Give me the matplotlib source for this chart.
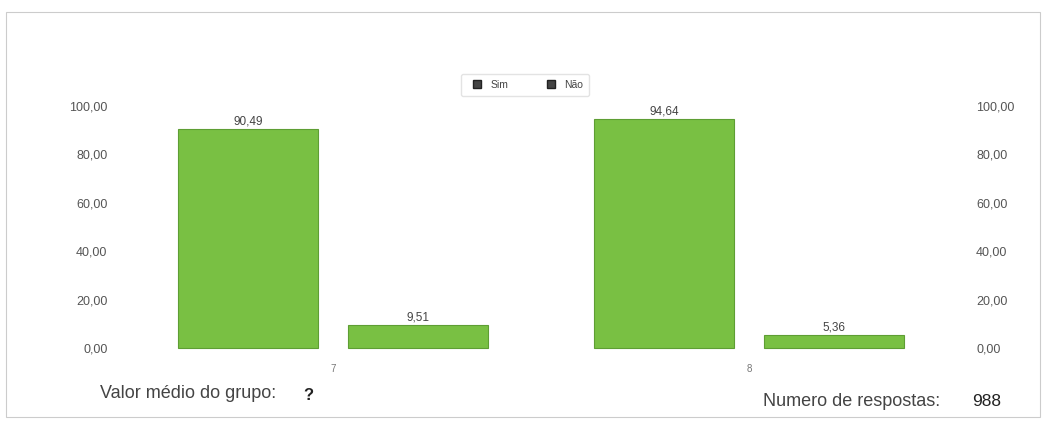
"""
Grouped bar chart: Sim / Não percentages for two groups.
"""

import matplotlib.pyplot as plt
from matplotlib.lines import Line2D
from matplotlib.patches import Rectangle
from matplotlib.ticker import FuncFormatter

plt.rcParams["font.family"] = ["Liberation Sans", "DejaVu Sans"]

# data
groups = ["7", "8"]
sim_values = [90.49, 94.64]
nao_values = [9.51, 5.36]
series_names = ["Sim", "Não"]
y_ticks = [0, 20, 40, 60, 80, 100]
n_respostas = "988"
valor_medio = "?"

bar_color = "#79c043"
edge_color = "#5e9e34"
text_gray = "#555555"


def comma_fmt(v, pos=None):
    return f"{v:.2f}".replace(".", ",")


fig = plt.figure(figsize=(10.44, 4.24), dpi=100)
ax = fig.add_axes([120 / 1044, 1 - 360 / 424, 820 / 1044, 266 / 424])

x = list(range(len(groups)))
width = 0.337
offset = 0.204

bars_sim = ax.bar([i - offset for i in x], sim_values, width,
                  color=bar_color, edgecolor=edge_color, linewidth=0.8)
bars_nao = ax.bar([i + offset for i in x], nao_values, width,
                  color=bar_color, edgecolor=edge_color, linewidth=0.8)

for bars, vals in [(bars_sim, sim_values), (bars_nao, nao_values)]:
    for b, v in zip(bars, vals):
        ax.text(b.get_x() + b.get_width() / 2, v + 0.6, comma_fmt(v),
                ha="center", va="bottom", fontsize=8.5, color="#444444")

ax.set_xlim(-0.512, 1.459)
ax.set_ylim(-5, 105)
ax.set_yticks(y_ticks)
ax.yaxis.set_major_formatter(FuncFormatter(comma_fmt))
ax.tick_params(axis="y", length=0, pad=9, labelsize=9, labelcolor=text_gray)
ax.set_xticks(x)
ax.set_xticklabels(groups)
ax.tick_params(axis="x", length=0, pad=3, labelsize=7, labelcolor="#777777")
for s in ax.spines.values():
    s.set_visible(False)

# right-hand axis with the same scale
ax2 = ax.twinx()
ax2.set_ylim(ax.get_ylim())
ax2.set_yticks(y_ticks)
ax2.yaxis.set_major_formatter(FuncFormatter(comma_fmt))
ax2.tick_params(axis="y", length=0, pad=26, labelsize=9, labelcolor=text_gray)
for s in ax2.spines.values():
    s.set_visible(False)

# legend
handles = [Line2D([], [], marker="s", linestyle="none", markersize=6,
                  markerfacecolor="#444444", markeredgecolor="#222222")
           for _ in series_names]
fig.legend(handles, series_names, loc="center", bbox_to_anchor=(525 / 1044, 1 - 85 / 424),
           ncol=2, fontsize=7.5, frameon=True, fancybox=True, handletextpad=0.3,
           columnspacing=3.0, edgecolor="#dddddd", borderpad=0.6, labelcolor="#444444")

# footer texts
fig.text(100 / 1044, 1 - 393 / 424, "Valor médio do grupo:", fontsize=13,
         color="#444444", va="center")
fig.text(303 / 1044, 1 - 395 / 424, valor_medio, fontsize=12, color="#222222",
         va="center", fontweight="bold")
fig.text(763 / 1044, 1 - 401 / 424, "Numero de respostas:", fontsize=13,
         color="#444444", va="center")
fig.text(972 / 1044, 1 - 401 / 424, n_respostas, fontsize=12.5, color="#222222",
         va="center")

# light frame around the panel
fig.patches.append(Rectangle((6 / 1044, 1 - 417 / 424), 1034 / 1044, 405 / 424,
                             transform=fig.transFigure, fill=False,
                             edgecolor="#cccccc", linewidth=0.8))

fig.savefig("out.png", dpi=100)
